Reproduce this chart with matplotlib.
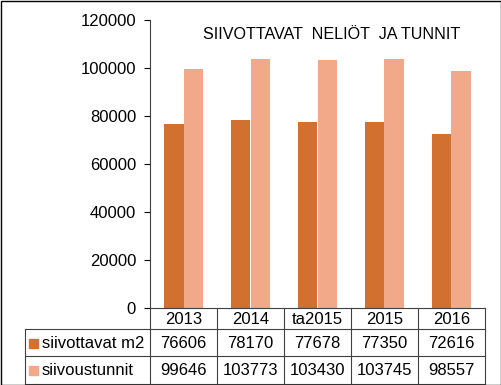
import matplotlib.pyplot as plt
from matplotlib.patches import Rectangle

# data
years = ["2013", "2014", "ta2015", "2015", "2016"]
neliot = [76606, 78170, 77678, 77350, 72616]
tunnit = [99646, 103773, 103430, 103745, 98557]
series_names = ["siivottavat m2", "siivoustunnit"]
colors = ["#D2702F", "#F2A98A"]

plt.rcParams['font.family'] = ['Liberation Sans', 'DejaVu Sans']

W, H = 502, 385
fig = plt.figure(figsize=(W / 100, H / 100), dpi=100)

# chart area (pixels -> figure fractions)
ax = fig.add_axes([150 / W, 1 - 308 / H, 335 / W, 288 / H])
x = list(range(len(years)))
bw = 0.284
ax.bar([i - bw / 2 for i in x], neliot, width=bw, color=colors[0])
ax.bar([i + bw / 2 for i in x], tunnit, width=bw, color=colors[1])
ax.set_xlim(-0.5, len(years) - 0.5)
ax.set_ylim(0, 120000)
ax.set_yticks(range(0, 120001, 20000))
ax.tick_params(axis='y', labelsize=12, length=4, width=0.8, pad=6)
ax.set_xticks([])
for s in ['top', 'right']:
    ax.spines[s].set_visible(False)
ax.spines['left'].set_color('#404040')
ax.spines['bottom'].set_color('#404040')
ax.text(0.543, 0.948, "SIIVOTTAVAT  NELIÖT  JA TUNNIT", transform=ax.transAxes,
        ha='center', va='center', fontsize=11.6)

# data table below
tax = fig.add_axes([25 / W, 1 - 384 / H, 460 / W, 76 / H])
left = -0.5 - 125 / 67
tax.set_xlim(left, len(years) - 0.5)
tax.set_ylim(384, 308)
tax.axis('off')
lc = '#404040'
for yy in [329, 356, 383.5]:
    tax.plot([left, len(years) - 0.5], [yy, yy], color=lc, lw=0.8, clip_on=False)
tax.plot([left, left], [329, 384], color=lc, lw=0.8, clip_on=False)
for i in range(len(years) + 1):
    tax.plot([i - 0.5, i - 0.5], [308, 384], color=lc, lw=0.8, clip_on=False)

for i, yr in enumerate(years):
    tax.text(i, 319, yr, ha='center', va='center', fontsize=12)
    tax.text(i, 343, str(neliot[i]), ha='center', va='center', fontsize=12)
    tax.text(i, 370.5, str(tunnit[i]), ha='center', va='center', fontsize=12)

def px(p):
    return -0.5 - (150 - p) / 67

for name, col, yc in zip(series_names, colors, [343, 370.5]):
    tax.add_patch(Rectangle((px(29), yc - 4.5), px(38) - px(29), 9, color=col, clip_on=False))
    tax.text(px(42), yc, name, ha='left', va='center', fontsize=12)

# outer border
fig.add_artist(Rectangle((0.5 / W, 0.5 / H), 1 - 1.5 / W, 1 - 1.5 / H, transform=fig.transFigure,
                         fill=False, edgecolor='black', lw=1))

fig.savefig("out.png", dpi=100)
